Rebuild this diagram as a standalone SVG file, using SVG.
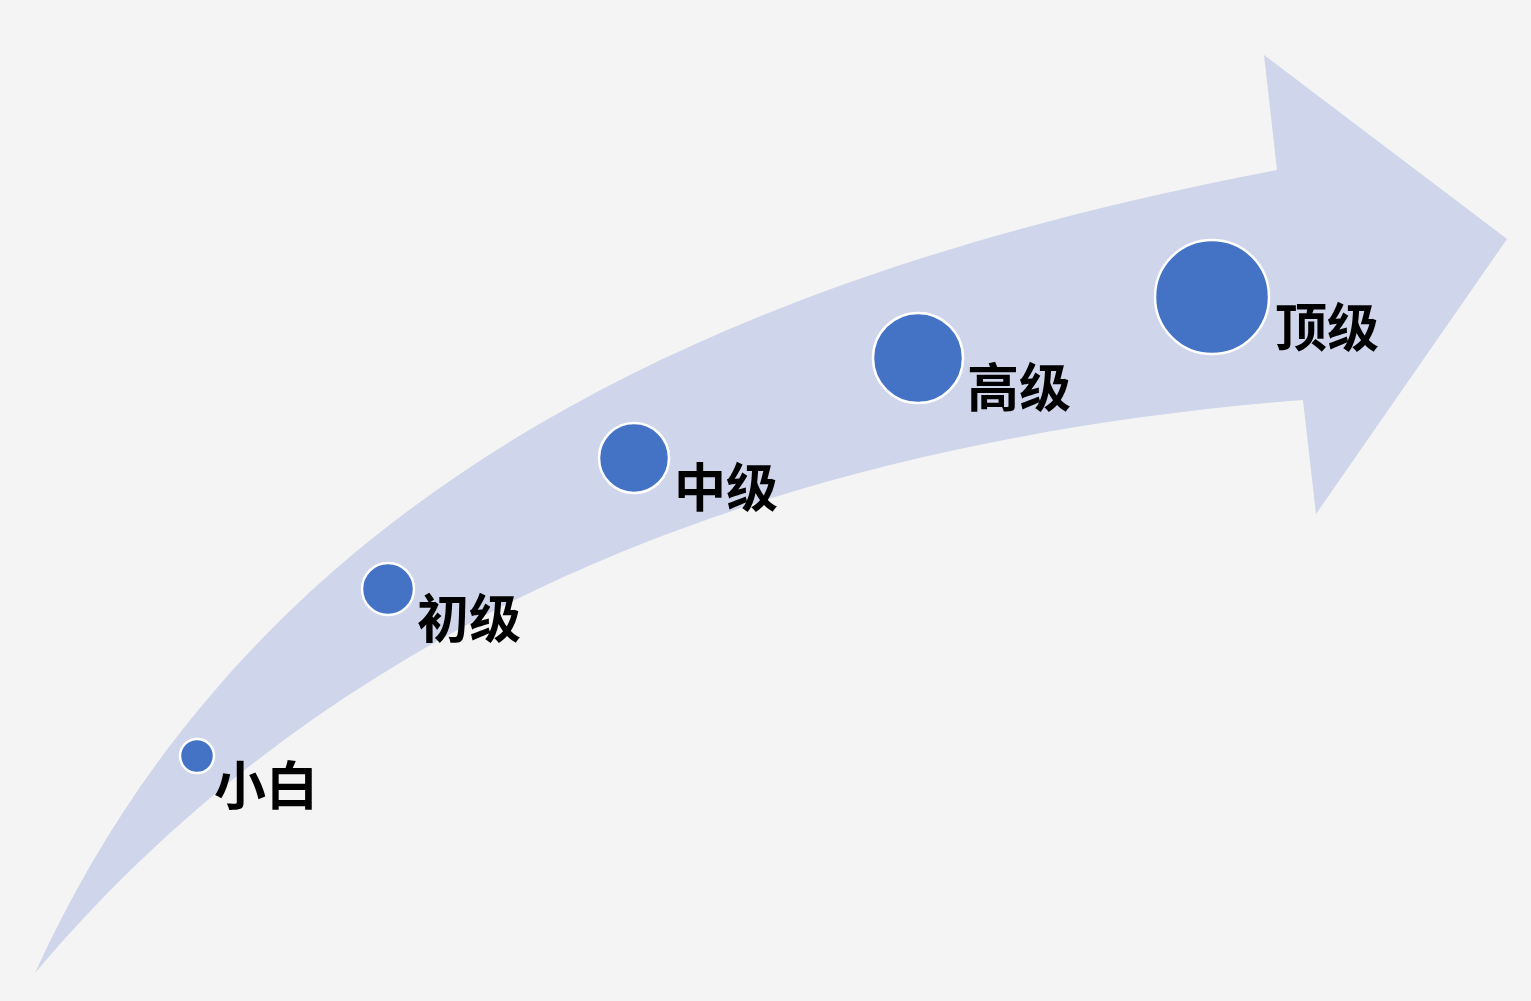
<svg xmlns="http://www.w3.org/2000/svg" width="1531" height="1001" viewBox="0 0 1531 1001">
<style>
.bg{fill:#f4f4f4}
.arrow{fill:#cfd5ea}
.dot{fill:#4472c4;stroke:#ffffff;stroke-width:2.5}
.lbl{font-family:"Noto Sans CJK SC","Noto Sans",sans-serif;font-size:52px;font-weight:bold;fill:#000000}
</style>
<rect class="bg" x="0" y="0" width="1531" height="1001"/>
<g id="connectors">
<path class="arrow" d="M35,973 C250,500 700,280 1277,170 L1264,55 L1507,239 L1316,514 L1303,400 C800,440 350,600 35,973 Z"/>
</g>
<g id="node-xiaobai">
<circle class="dot" cx="197" cy="756" r="17"/>
<text class="lbl" x="214" y="805">小白</text>
</g>
<g id="node-chuji">
<circle class="dot" cx="388" cy="589" r="26"/>
<text class="lbl" x="417" y="638">初级</text>
</g>
<g id="node-zhongji">
<circle class="dot" cx="634" cy="458" r="35"/>
<text class="lbl" x="674" y="507">中级</text>
</g>
<g id="node-gaoji">
<circle class="dot" cx="918" cy="358" r="45"/>
<text class="lbl" x="967" y="407">高级</text>
</g>
<g id="node-dingji">
<circle class="dot" cx="1212" cy="297" r="57"/>
<text class="lbl" x="1275" y="347">顶级</text>
</g>
</svg>
